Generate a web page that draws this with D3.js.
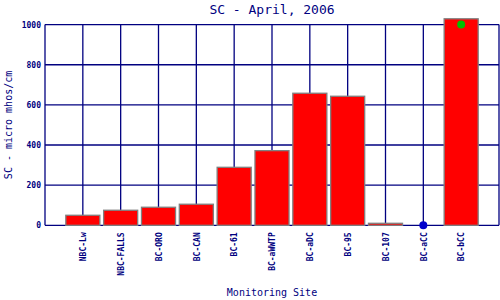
<!DOCTYPE html>
<html><head><meta charset="utf-8">
<script src="https://cdn.jsdelivr.net/npm/d3@7"></script>
<style>body{margin:0;background:#fff}svg{display:block}</style>
</head><body>
<script>
const sites = ["NBC-Lw","NBC-FALLS","BC-ORO","BC-CAN","BC-61","BC-aWWTP","BC-aDC","BC-95","BC-107","BC-aCC","BC-bCC"];
const scValues = [50, 75, 90, 105, 289, 372, 658, 643, 10, null, 1029];
const markerSites = ["BC-aCC","BC-bCC"];
const markerValues = [0, 1000];
const markerColors = ["#0000CC", "#00C000"];
const yTicks = [0, 200, 400, 600, 800, 1000];
const title = "SC - April, 2006";
const xTitle = "Monitoring Site";
const yTitle = "SC - micro mhos/cm";

const W = 500, H = 300;
const m = {l:45, r:1, t:24.6, b:74.7};
const navy = "#000080";
const svg = d3.select("body").append("svg").attr("width",W).attr("height",H);

const x = d3.scalePoint().domain(sites).range([m.l, W-m.r]).padding(1);
const y = d3.scaleLinear().domain([0,1000]).range([H-m.b, m.t]);
const step = x.step();
const bw = step*0.9;

const g = svg.append("g");
// horizontal grid
g.selectAll("line.h").data(yTicks).join("line")
  .attr("x1", m.l).attr("x2", W-m.r)
  .attr("y1", d=>y(d)).attr("y2", d=>y(d))
  .attr("stroke", navy).attr("stroke-width",1.3);
// vertical grid
g.selectAll("line.v").data(sites).join("line")
  .attr("x1", d=>x(d)).attr("x2", d=>x(d))
  .attr("y1", m.t).attr("y2", y(0))
  .attr("stroke", navy).attr("stroke-width",1.3);
// frame left/right
g.append("line").attr("x1",m.l).attr("x2",m.l).attr("y1",m.t).attr("y2",y(0)).attr("stroke",navy).attr("stroke-width",1.3);
g.append("line").attr("x1",W-m.r).attr("x2",W-m.r).attr("y1",m.t).attr("y2",y(0)).attr("stroke",navy).attr("stroke-width",1.3);

// bars
const barData = sites.map((s,i)=>({s, v:scValues[i]})).filter(d=>d.v!=null);
svg.append("g").selectAll("rect").data(barData).join("rect")
  .attr("x", d=>x(d.s)-bw/2).attr("width", bw)
  .attr("y", d=>y(d.v)).attr("height", d=>y(0)-y(d.v))
  .attr("fill","#FF0000").attr("stroke","#808080").attr("stroke-width",1.3);

// markers
svg.append("g").selectAll("circle").data(markerSites.map((s,i)=>({s,v:markerValues[i],c:markerColors[i]}))).join("circle")
  .attr("cx", d=>x(d.s)).attr("cy", d=>y(d.v)).attr("r",4).attr("fill", d=>d.c);

// y axis labels
const yAxis = d3.axisLeft(y).tickValues(yTicks).tickSize(0).tickPadding(4).tickFormat(d3.format("d"));
const ya = svg.append("g").attr("transform",`translate(${m.l},0)`).call(yAxis);
ya.select(".domain").remove();
ya.selectAll("text").attr("fill",navy).attr("font-family","'DejaVu Sans Mono', monospace").attr("font-size",8).attr("font-weight","bold");

// x axis labels
const xAxis = d3.axisBottom(x).tickSize(0).tickPadding(0);
const xa = svg.append("g").attr("transform",`translate(0,${y(0)})`).call(xAxis);
xa.select(".domain").remove();
xa.selectAll("text")
  .attr("fill",navy).attr("font-family","'DejaVu Sans Mono', monospace").attr("font-size",8).attr("font-weight","bold")
  .attr("transform","rotate(-90)").attr("text-anchor","end").attr("x",-7).attr("y",0).attr("dy","0.35em");

// titles
svg.append("text").attr("x",(m.l+W-m.r)/2).attr("y",14).attr("text-anchor","middle")
  .attr("fill",navy).attr("font-family","'DejaVu Sans Mono', monospace").attr("font-size",13).text(title);
svg.append("text").attr("x",(m.l+W-m.r)/2).attr("y",296).attr("text-anchor","middle")
  .attr("fill",navy).attr("font-family","'DejaVu Sans Mono', monospace").attr("font-size",10).text(xTitle);
svg.append("text").attr("transform",`translate(12,${(m.t+y(0))/2}) rotate(-90)`).attr("text-anchor","middle")
  .attr("fill",navy).attr("font-family","'DejaVu Sans Mono', monospace").attr("font-size",10).text(yTitle);
</script>
</body></html>
